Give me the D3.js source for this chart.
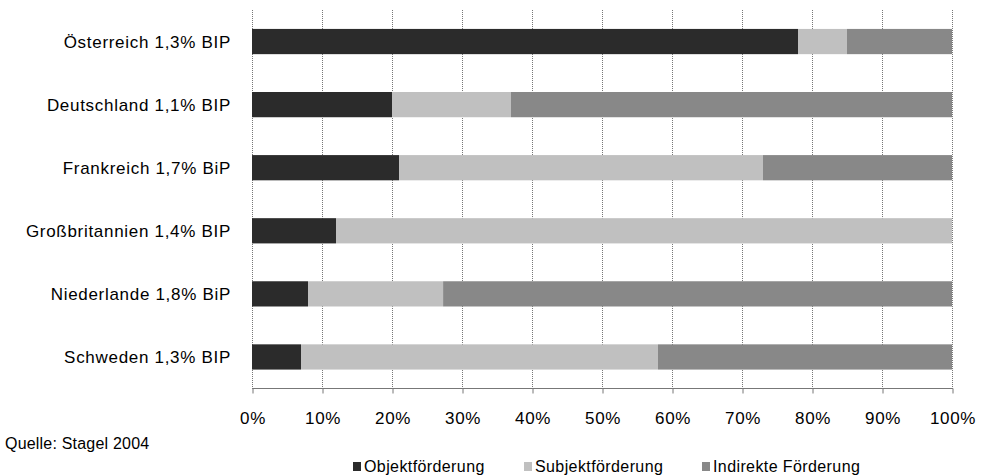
<!DOCTYPE html>
<html>
<head>
<meta charset="utf-8">
<script src="https://cdn.jsdelivr.net/npm/d3@7"></script>
<style>
  body { margin: 0; background: #fff; }
  svg text { font-family: "Liberation Sans", Arial, Helvetica, sans-serif; fill: #000; }
</style>
</head>
<body>
<svg width="981" height="475"></svg>
<script>
var countries = ["Österreich 1,3% BIP", "Deutschland 1,1% BIP", "Frankreich 1,7% BiP",
                 "Großbritannien 1,4% BIP", "Niederlande 1,8% BiP", "Schweden 1,3% BIP"];
var seriesNames = ["Objektförderung", "Subjektförderung", "Indirekte Förderung"];
var objekt   = [78, 20, 21, 12, 8, 7];
var subjekt  = [7, 17, 52, 88, 19.3, 51];
var indirekt = [15, 63, 27, 0, 72.7, 42];
var tickValues = [0, 10, 20, 30, 40, 50, 60, 70, 80, 90, 100];
var colors = ["#2b2b2b", "#c0c0c0", "#888888"];

var svg = d3.select("svg");

var x = d3.scaleLinear().domain([0, 100]).range([252, 952]);
var y = d3.scaleBand().domain(countries).range([10, 388.5])
    .paddingInner(0.6).paddingOuter(0.3);

// dotted gridlines
svg.append("g")
    .selectAll("line")
    .data(tickValues)
    .enter().append("line")
    .attr("x1", function(d) { return x(d) + 0.5; })
    .attr("x2", function(d) { return x(d) + 0.5; })
    .attr("y1", 10)
    .attr("y2", 389)
    .style("stroke", "#777")
    .style("stroke-width", 1)
    .style("stroke-dasharray", "1,1");

var table = countries.map(function(c, i) {
    return { country: c, objekt: objekt[i], subjekt: subjekt[i], indirekt: indirekt[i] };
});
var stack = d3.stack().keys(["objekt", "subjekt", "indirekt"]);
var layers = stack(table);

svg.append("g")
    .selectAll("g")
    .data(layers)
    .enter().append("g")
    .style("fill", function(d, i) { return colors[i]; })
    .selectAll("rect")
    .data(function(d) { return d; })
    .enter().append("rect")
    .attr("x", function(d) { return x(d[0]); })
    .attr("width", function(d) { return x(d[1]) - x(d[0]); })
    .attr("y", function(d) { return y(d.data.country); })
    .attr("height", y.bandwidth());

// bottom axis
var xAxis = d3.axisBottom(x)
    .tickValues(tickValues)
    .tickSize(5)
    .tickPadding(18)
    .tickFormat(function(d) { return d + "%"; });

var axisG = svg.append("g")
    .attr("transform", "translate(0.5,388.5)")
    .call(xAxis);
axisG.select(".domain").attr("d", "M" + x(0) + ",0H" + x(100)).style("stroke", "#777");
axisG.selectAll(".tick line").style("stroke", "#777");
axisG.selectAll(".tick text")
    .attr("font-size", null)
    .style("font-size", "17px")
    .style("letter-spacing", "0.6px")
    .attr("dy", "0.71em");
axisG.attr("font-family", null);

// category labels
svg.append("g")
    .selectAll("text")
    .data(countries)
    .enter().append("text")
    .attr("x", 231)
    .attr("y", function(d) { return y(d) + y.bandwidth() / 2; })
    .attr("dy", "0.36em")
    .attr("text-anchor", "end")
    .style("font-size", "17px")
    .style("letter-spacing", "0.7px")
    .text(function(d) { return d; });

// source
svg.append("text")
    .attr("x", 5)
    .attr("y", 449)
    .style("font-size", "16px")
    .style("letter-spacing", "0.2px")
    .text("Quelle: Stagel 2004");

// legend
var legendX = [353, 524, 702];
var legend = svg.append("g")
    .selectAll("g")
    .data(seriesNames)
    .enter().append("g")
    .attr("transform", function(d, i) { return "translate(" + legendX[i] + ",462)"; });
legend.append("rect")
    .attr("width", 8)
    .attr("height", 9)
    .style("fill", function(d, i) { return colors[i]; });
legend.append("text")
    .attr("x", 11)
    .attr("y", 9.5)
    .style("font-size", "16px")
    .style("letter-spacing", "0.4px")
    .text(function(d) { return d; });
</script>
</body>
</html>
